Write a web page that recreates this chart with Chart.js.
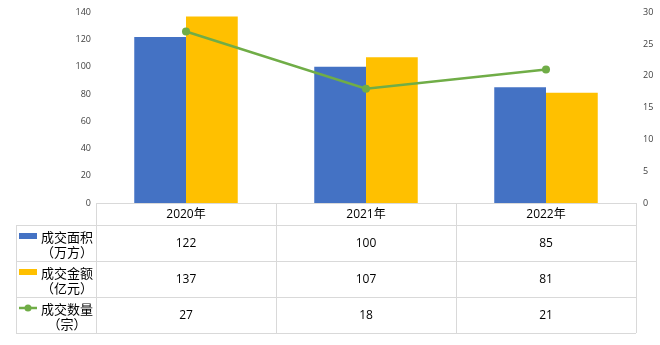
<!DOCTYPE html>
<html>
<head>
<meta charset="utf-8">
<script src="https://cdn.jsdelivr.net/npm/chart.js@4/dist/chart.umd.min.js"></script>
<style>
  html, body { margin: 0; padding: 0; background: #fff; }
  #wrap { width: 660px; height: 345px; }
</style>
</head>
<body>
<div id="wrap"><canvas id="dealChart" width="660" height="345"></canvas></div>
<script>
const years = ["2020年", "2021年", "2022年"];
const areaValues = [122, 100, 85];
const amountValues = [137, 107, 81];
const countValues = [27, 18, 21];
const rowLabels = [
  ["成交面积", "（万方）"],
  ["成交金额", "（亿元）"],
  ["成交数量", "（宗）"],
];

const BLUE = "#4472C4";
const GOLD = "#FFC000";
const GREEN = "#70AD47";
const GRID = "#d9d9d9";
const CJK = '"Noto Sans CJK SC", sans-serif';
const NUM = '"Open Sans", "Noto Sans CJK SC", sans-serif';

// data table under the plot, one column per category
const dataTable = {
  id: "dataTable",
  afterDraw(chart) {
    const { ctx, chartArea, scales } = chart;
    const x = scales.x;
    const left = 16;
    const colLeft = chartArea.left;
    const right = chartArea.right;
    const top = chartArea.bottom;
    const headH = 22;
    const rowH = 36;
    const rowsTop = top + headH;
    const bottom = rowsTop + rowH * 3;
    const half = (x.getPixelForValue(1) - x.getPixelForValue(0)) / 2;

    ctx.save();
    ctx.strokeStyle = GRID;
    ctx.lineWidth = 1;
    ctx.beginPath();
    ctx.moveTo(colLeft, top + 0.5);
    ctx.lineTo(right, top + 0.5);
    for (let r = 0; r <= 3; r++) {
      const y = Math.round(rowsTop + r * rowH) + 0.5;
      ctx.moveTo(left, y);
      ctx.lineTo(right, y);
    }
    ctx.moveTo(left + 0.5, rowsTop);
    ctx.lineTo(left + 0.5, bottom);
    ctx.moveTo(colLeft + 0.5, top);
    ctx.lineTo(colLeft + 0.5, bottom);
    years.forEach((_, i) => {
      const xr = Math.round(x.getPixelForValue(i) + half) + 0.5;
      ctx.moveTo(xr, top);
      ctx.lineTo(xr, bottom);
    });
    ctx.stroke();

    ctx.fillStyle = "#000";
    ctx.textAlign = "center";
    ctx.textBaseline = "middle";
    ctx.font = "12px " + NUM;
    years.forEach((yr, i) => {
      ctx.fillText(yr, x.getPixelForValue(i), top + headH / 2 + 1);
    });

    const series = [areaValues, amountValues, countValues];
    series.forEach((vals, r) => {
      const cy = rowsTop + r * rowH + rowH / 2;
      ctx.font = "12px " + NUM;
      ctx.fillStyle = "#000";
      vals.forEach((v, i) => ctx.fillText(String(v), x.getPixelForValue(i), cy + 1));

      // legend key
      const kx = 19, kw = 18;
      if (r < 2) {
        ctx.fillStyle = r === 0 ? BLUE : GOLD;
        ctx.fillRect(kx, cy - 10, kw, 6);
      } else {
        ctx.strokeStyle = GREEN;
        ctx.lineWidth = 2.5;
        ctx.beginPath();
        ctx.moveTo(kx, cy - 7);
        ctx.lineTo(kx + kw, cy - 7);
        ctx.stroke();
        ctx.fillStyle = GREEN;
        ctx.beginPath();
        ctx.arc(kx + kw / 2, cy - 7, 3.5, 0, Math.PI * 2);
        ctx.fill();
      }

      ctx.fillStyle = "#000";
      ctx.font = "13px " + CJK;
      ctx.fillText(rowLabels[r][0], 67, cy - 6);
      ctx.fillText(rowLabels[r][1], 67, cy + 9);
    });
    ctx.restore();
  },
};

new Chart(document.getElementById("dealChart"), {
  data: {
    labels: years,
    datasets: [
      {
        type: "line",
        label: "成交数量（宗）",
        data: countValues,
        yAxisID: "y1",
        borderColor: GREEN,
        backgroundColor: GREEN,
        borderWidth: 2.5,
        pointRadius: 4,
        pointBorderWidth: 0,
        tension: 0,
        order: 0,
      },
      {
        type: "bar",
        label: "成交面积（万方）",
        data: areaValues,
        yAxisID: "y",
        backgroundColor: BLUE,
        categoryPercentage: 0.575,
        barPercentage: 1,
        order: 1,
      },
      {
        type: "bar",
        label: "成交金额（亿元）",
        data: amountValues,
        yAxisID: "y",
        backgroundColor: GOLD,
        categoryPercentage: 0.575,
        barPercentage: 1,
        order: 1,
      },
    ],
  },
  options: {
    responsive: false,
    animation: false,
    devicePixelRatio: 1,
    layout: { padding: { top: 11, bottom: 142, left: 0, right: 0 } },
    plugins: { legend: { display: false }, tooltip: { enabled: false } },
    scales: {
      x: { display: false },
      y: {
        position: "left",
        min: 0,
        max: 140,
        border: { display: false },
        grid: { display: false, drawTicks: false },
        ticks: { stepSize: 20, padding: 5, color: "#404040", font: { family: NUM, size: 9 } },
        afterFit: (s) => { s.width = 96; },
      },
      y1: {
        position: "right",
        min: 0,
        max: 30,
        border: { display: false },
        grid: { display: false, drawTicks: false },
        ticks: { stepSize: 5, padding: 7, color: "#404040", font: { family: NUM, size: 9 } },
        afterFit: (s) => { s.width = 24; },
      },
    },
  },
  plugins: [dataTable],
});
</script>
</body>
</html>
